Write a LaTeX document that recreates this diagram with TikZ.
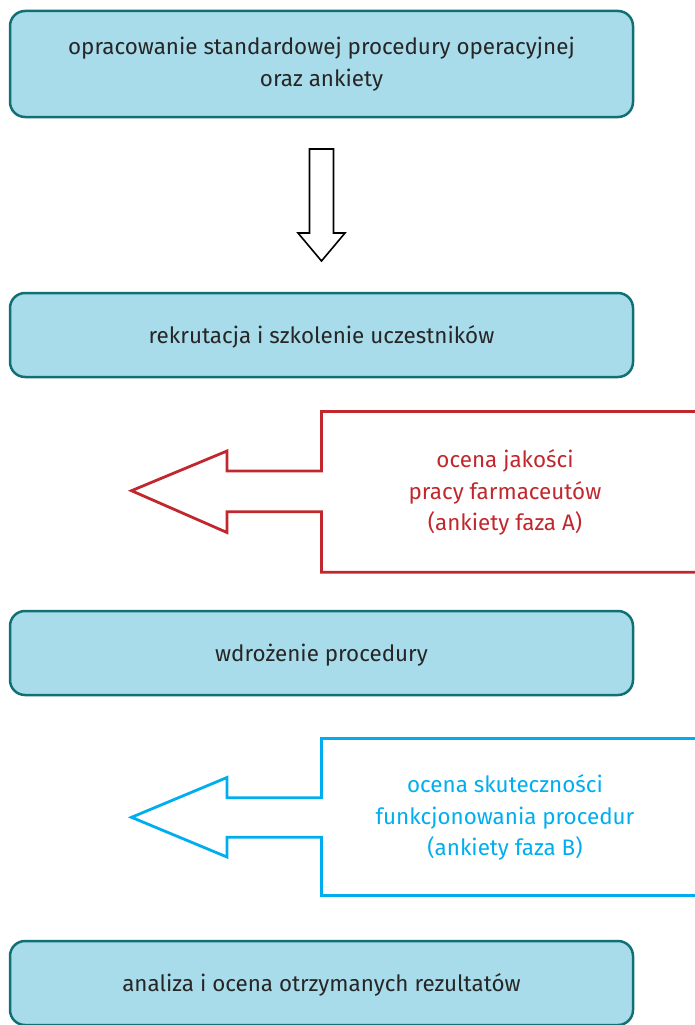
\documentclass[tikz,border=0pt]{standalone}
\usepackage{fontspec}
\setmainfont{Fira Sans}
\definecolor{boxfill}{RGB}{168,220,234}
\definecolor{boxline}{RGB}{16,112,116}
\definecolor{txt}{RGB}{38,38,38}
\definecolor{redc}{RGB}{192,40,45}
\definecolor{bluec}{RGB}{0,174,239}
\begin{document}
\begin{tikzpicture}[x=1pt,y=-1pt,
  box/.style={draw=boxline, line width=2.5pt, fill=boxfill, rounded corners=15pt,
    minimum width=623pt, text=txt, align=center, font=\fontsize{22.4}{31.3}\selectfont, inner sep=0pt},
  onebox/.style={box, minimum height=84pt, text depth=0pt},
  lbl/.style={align=center, font=\fontsize{22.4}{31.3}\selectfont, inner sep=0pt},
  bigarrow/.style={line width=2.8pt, line join=miter}]
\useasboundingbox (0,0) rectangle (695,1025);
\clip (0,0) rectangle (695,1025);
\node[box, minimum height=106pt] (b1) at (321.5,64) {opracowanie standardowej procedury operacyjnej\\oraz ankiety};
\node[onebox] (b2) at (321.5,335) {rekrutacja i szkolenie uczestników};
\node[onebox] (b3) at (321.5,653) {wdrożenie procedury};
\node[onebox] (b4) at (321.5,983) {analiza i ocena otrzymanych rezultatów};
% down arrow
\draw[line width=1.6pt, line join=miter] (309.5,149) -- (333.5,149) -- (333.5,233) -- (345,233) -- (321.5,261) -- (298,233) -- (309.5,233) -- cycle;
% red callout
\draw[bigarrow, draw=redc] (710,411.5) -- (321.5,411.5) -- (321.5,471) -- (227,471) -- (227,451) -- (131.5,490.7) -- (227,532.5) -- (227,511.7) -- (321.5,511.7) -- (321.5,572.3) -- (710,572.3);
\node[lbl, text=redc] (t1) at (505,492.5) {ocena jakości\\pracy farmaceutów\\(ankiety faza A)};
% blue callout
\draw[bigarrow, draw=bluec] (710,738.5) -- (321.5,738.5) -- (321.5,797.7) -- (227,797.7) -- (227,777.5) -- (131.5,817.3) -- (227,857) -- (227,837.3) -- (321.5,837.3) -- (321.5,895.5) -- (710,895.5);
\node[lbl, text=bluec] (t2) at (505,817.5) {ocena skuteczności\\funkcjonowania procedur\\(ankiety faza B)};
\end{tikzpicture}
\end{document}
